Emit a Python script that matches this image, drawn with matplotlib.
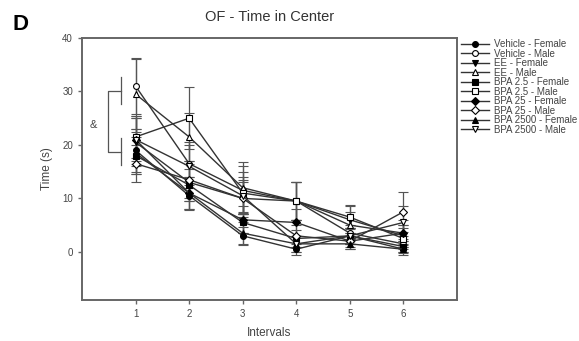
import matplotlib
matplotlib.use("Agg")
import matplotlib.pyplot as plt
import numpy as np

plt.rcParams["font.family"] = ["Liberation Sans", "DejaVu Sans"]

intervals = [1, 2, 3, 4, 5, 6]

labels = ["Vehicle - Female", "Vehicle - Male", "EE - Female", "EE - Male",
          "BPA 2.5 - Female", "BPA 2.5 - Male", "BPA 25 - Female", "BPA 25 - Male",
          "BPA 2500 - Female", "BPA 2500 - Male"]

veh_f = [19.0, 10.5, 3.0, 0.5, 3.0, 0.5]
veh_m = [31.0, 16.5, 11.5, 9.5, 3.5, 1.5]
ee_f = [20.5, 13.0, 10.0, 9.5, 6.0, 3.0]
ee_m = [29.5, 21.5, 12.0, 9.5, 5.0, 3.5]
bpa25l_f = [18.0, 12.5, 5.5, 2.5, 3.0, 1.0]
bpa25l_m = [21.5, 25.0, 11.0, 9.5, 6.5, 2.5]
bpa25_f = [21.0, 11.0, 6.0, 5.5, 2.0, 3.5]
bpa25_m = [16.5, 13.5, 10.0, 3.0, 2.0, 7.5]
bpa2500_f = [18.5, 11.0, 3.5, 1.5, 1.5, 0.5]
bpa2500_m = [21.0, 16.0, 10.5, 1.5, 3.0, 5.5]

veh_f_err = [4.0, 2.7, 1.7, 1.0, 1.5, 1.0]
veh_m_err = [5.2, 4.0, 4.5, 3.5, 1.5, 1.5]
ee_f_err = [4.5, 3.5, 3.5, 3.5, 2.5, 2.0]
ee_m_err = [6.5, 4.5, 4.8, 3.5, 2.5, 2.5]
bpa25l_f_err = [3.5, 3.0, 2.0, 1.5, 1.5, 1.0]
bpa25l_m_err = [4.0, 5.8, 4.0, 3.5, 2.3, 2.0]
bpa25_f_err = [4.0, 3.0, 2.5, 2.5, 1.0, 1.5]
bpa25_m_err = [3.5, 3.5, 3.0, 2.0, 1.5, 3.7]
bpa2500_f_err = [4.0, 3.0, 2.0, 1.5, 1.0, 0.8]
bpa2500_m_err = [4.5, 4.0, 3.5, 1.5, 1.5, 3.0]

series = [veh_f, veh_m, ee_f, ee_m, bpa25l_f, bpa25l_m, bpa25_f, bpa25_m, bpa2500_f, bpa2500_m]
errors = [veh_f_err, veh_m_err, ee_f_err, ee_m_err, bpa25l_f_err, bpa25l_m_err,
          bpa25_f_err, bpa25_m_err, bpa2500_f_err, bpa2500_m_err]
markers = ["o", "o", "v", "^", "s", "s", "D", "D", "^", "v"]
filled = [True, False, True, False, True, False, True, False, True, False]

fig = plt.figure(figsize=(5.79, 3.41), dpi=100)
ax = fig.add_axes([82 / 579, 1 - 300 / 341, (457 - 82) / 579, (300 - 38) / 341])

handles = []
for vals, err, m, f, lab in zip(series, errors, markers, filled, labels):
    ms = 4.2 if m != "D" else 3.6
    eb = ax.errorbar(intervals, vals, yerr=err, color="#333333", lw=1.0,
                     marker=m, ms=ms, mfc="black" if f else "white", mec="black", mew=0.8,
                     ecolor="#555555", elinewidth=0.9, capsize=3.5, capthick=0.9, label=lab)
    handles.append(eb.lines[0])

ax.set_xlim(0, 7)
ax.set_ylim(-9, 40)
ax.set_xticks(intervals)
ax.set_yticks([0, 10, 20, 30, 40])
for sp in ax.spines.values():
    sp.set_color("#666666")
    sp.set_linewidth(1.4)
ax.tick_params(direction="out", length=3, width=1, colors="#666666",
               labelsize=7, labelcolor="#444444")
ax.set_xlabel("Intervals", fontsize=8.5, color="#444444", labelpad=6)
ax.set_ylabel("Time (s)", fontsize=8.5, color="#444444", labelpad=7)
ax.set_title("OF - Time in Center", fontsize=10.5, color="#333333", pad=12)

# significance bracket
ax.plot([0.72, 0.485, 0.485, 0.72], [30, 30, 18.7, 18.7], color="#555555", lw=0.9)
ax.plot([0.72, 0.72], [32.7, 27.6], color="#555555", lw=0.9)
ax.plot([0.72, 0.72], [21.3, 16.3], color="#555555", lw=0.9)
ax.text(0.22, 23.7, "&", fontsize=8, color="#444444", ha="center", va="center")

fig.text(13 / 579, 1 - 24 / 341, "D", fontsize=16, fontweight="bold", ha="left", va="center")

fig.legend(handles, labels, loc="upper left", bbox_to_anchor=(461 / 579, 1 - 39 / 341),
           frameon=False, fontsize=7, labelspacing=-0.05, handlelength=2.9,
           handletextpad=0.45, borderaxespad=0, borderpad=0, labelcolor="#444444")

fig.savefig("out.png", dpi=100)
